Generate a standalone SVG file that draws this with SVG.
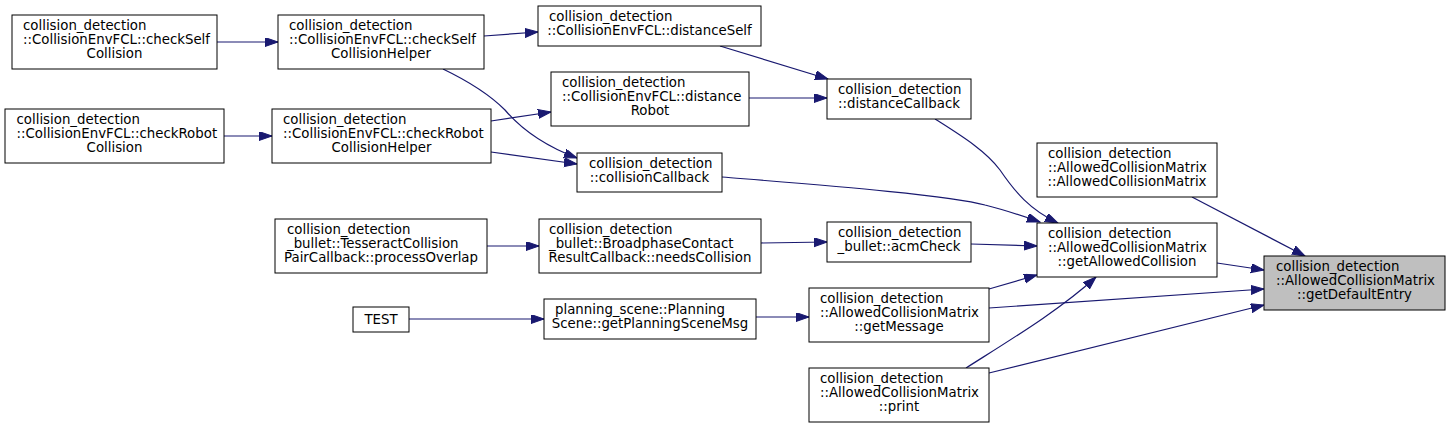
<svg xmlns="http://www.w3.org/2000/svg" width="1451" height="429" viewBox="0 0 1451 429">
<style>
.n rect{fill:#ffffff;stroke:#000000;stroke-width:1}
.n.hl rect{fill:#bfbfbf}
.n text{font-family:"DejaVu Sans",Verdana,sans-serif;font-size:13.33px;fill:#000000}
.n text.c{text-anchor:middle}
.e path{fill:none;stroke:#191970;stroke-width:1.2;marker-end:url(#ah)}
</style>
<defs>
<marker id="ah" markerUnits="userSpaceOnUse" markerWidth="14" markerHeight="10" refX="13" refY="4.5" orient="auto" viewBox="0 0 14 10">
<path d="M0,0 L13,4.5 L0,9 z" fill="#191970" stroke="#191970" stroke-width="1"/>
</marker>
</defs>
<rect width="1451" height="429" fill="#ffffff"/>
<g id="connectors" class="e">
<path d="M217,42 L278,42"/>
<path d="M224,136 L272,136"/>
<path d="M484,36 L538,32"/>
<path d="M443,69 C470,82 490,95 505,110 C522,130 545,146 577,158"/>
<path d="M491,121 L551,112"/>
<path d="M491,152 L577,164"/>
<path d="M720,46 L828,79"/>
<path d="M749,98 L827,98"/>
<path d="M935,119 C960,135 985,150 1000,170 C1015,192 1030,210 1058,223"/>
<path d="M722,177 C820,185 950,195 985,205 C1005,210 1020,215 1040,222"/>
<path d="M971,244 L1037,246"/>
<path d="M761,243 L827,242"/>
<path d="M487,246 L539,246"/>
<path d="M409,319 L544,319"/>
<path d="M756,317 L809,317"/>
<path d="M989,289 L1037,275"/>
<path d="M989,308 L1264,289"/>
<path d="M966,368 C1010,340 1060,310 1096,277"/>
<path d="M989,373 L1264,305"/>
<path d="M1217,263 L1264,270"/>
<path d="M1192,197 L1305,256"/>
</g>
<g id="checkSelfCollision" class="n"><rect x="12" y="15" width="205" height="54"/><text x="23" y="30.3">collision_detection</text><text x="23" y="44.3">::CollisionEnvFCL::checkSelf</text><text class="c" x="114.5" y="58.3">Collision</text></g>
<g id="checkSelfCollisionHelper" class="n"><rect x="278" y="15" width="206" height="54"/><text x="289" y="30.3">collision_detection</text><text x="289" y="44.3">::CollisionEnvFCL::checkSelf</text><text class="c" x="381" y="58.3">CollisionHelper</text></g>
<g id="checkRobotCollision" class="n"><rect x="5" y="109" width="219" height="54"/><text x="16.5" y="124.3">collision_detection</text><text x="16.5" y="138.3">::CollisionEnvFCL::checkRobot</text><text class="c" x="114.5" y="152.3">Collision</text></g>
<g id="checkRobotCollisionHelper" class="n"><rect x="272" y="109" width="219" height="54"/><text x="283" y="124.3">collision_detection</text><text x="283" y="138.3">::CollisionEnvFCL::checkRobot</text><text class="c" x="381.5" y="152.3">CollisionHelper</text></g>
<g id="distanceSelf" class="n"><rect x="538" y="6" width="223" height="40"/><text x="549" y="21.3">collision_detection</text><text class="c" x="649.5" y="35.3">::CollisionEnvFCL::distanceSelf</text></g>
<g id="distanceRobot" class="n"><rect x="551" y="72" width="198" height="54"/><text x="562" y="87.3">collision_detection</text><text x="562" y="101.3">::CollisionEnvFCL::distance</text><text class="c" x="650" y="115.3">Robot</text></g>
<g id="distanceCallback" class="n"><rect x="827" y="79" width="144" height="40"/><text x="838" y="94.3">collision_detection</text><text class="c" x="899" y="108.3">::distanceCallback</text></g>
<g id="collisionCallback" class="n"><rect x="577" y="153" width="145" height="39"/><text x="589" y="168.3">collision_detection</text><text class="c" x="649.5" y="182.3">::collisionCallback</text></g>
<g id="AllowedCollisionMatrix" class="n"><rect x="1037" y="143" width="180" height="54"/><text x="1048" y="158.3">collision_detection</text><text x="1048" y="172.3">::AllowedCollisionMatrix</text><text class="c" x="1127" y="186.3">::AllowedCollisionMatrix</text></g>
<g id="getAllowedCollision" class="n"><rect x="1037" y="223" width="180" height="54"/><text x="1048" y="238.3">collision_detection</text><text x="1048" y="252.3">::AllowedCollisionMatrix</text><text class="c" x="1127" y="266.3">::getAllowedCollision</text></g>
<g id="getDefaultEntry" class="n hl"><rect x="1264" y="256" width="181" height="54"/><text x="1276" y="271.3">collision_detection</text><text x="1276" y="285.3">::AllowedCollisionMatrix</text><text class="c" x="1354.5" y="299.3">::getDefaultEntry</text></g>
<g id="processOverlap" class="n"><rect x="275" y="219" width="212" height="54"/><text x="287" y="234.3">collision_detection</text><text x="287" y="248.3">_bullet::TesseractCollision</text><text class="c" x="381" y="262.3">PairCallback::processOverlap</text></g>
<g id="TEST" class="n"><rect x="353" y="307" width="56" height="25"/><text class="c" x="381" y="324">TEST</text></g>
<g id="needsCollision" class="n"><rect x="539" y="219" width="222" height="54"/><text x="549" y="234.3">collision_detection</text><text x="549" y="248.3">_bullet::BroadphaseContact</text><text class="c" x="650" y="262.3">ResultCallback::needsCollision</text></g>
<g id="acmCheck" class="n"><rect x="827" y="222" width="144" height="40"/><text x="838" y="237.3">collision_detection</text><text class="c" x="899" y="251.3">_bullet::acmCheck</text></g>
<g id="getPlanningSceneMsg" class="n"><rect x="544" y="299" width="212" height="40"/><text x="555" y="314.3">planning_scene::Planning</text><text class="c" x="650" y="328.3">Scene::getPlanningSceneMsg</text></g>
<g id="getMessage" class="n"><rect x="809" y="288" width="180" height="54"/><text x="820" y="303.3">collision_detection</text><text x="820" y="317.3">::AllowedCollisionMatrix</text><text class="c" x="899" y="331.3">::getMessage</text></g>
<g id="print" class="n"><rect x="809" y="368" width="180" height="54"/><text x="820" y="383.3">collision_detection</text><text x="820" y="397.3">::AllowedCollisionMatrix</text><text class="c" x="899" y="411.3">::print</text></g>
</svg>
